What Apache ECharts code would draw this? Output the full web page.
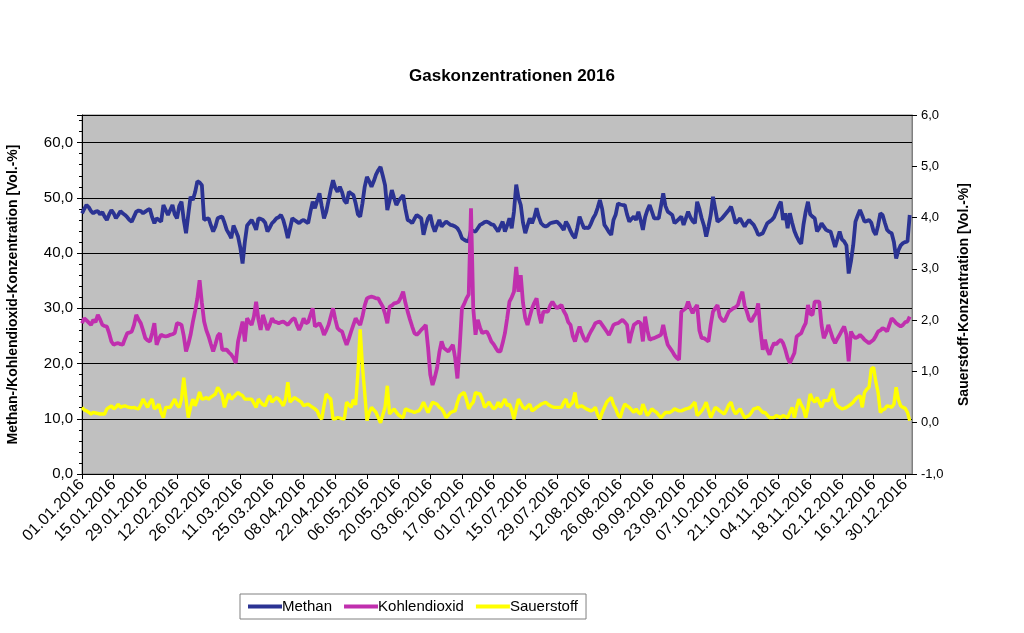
<!DOCTYPE html>
<html><head><meta charset="utf-8">
<script src="https://cdn.jsdelivr.net/npm/echarts@6/dist/echarts.min.js"></script>
<style>html,body{margin:0;padding:0;background:#fff}#c{width:1024px;height:633px}</style>
</head><body><div id="c"></div>
<script>
// ---- data (daily values from 01.01.2016) ----
const startDate = [2016, 0, 1];
const dayCount = 368; // axis runs 01.01.2016 .. 02.01.2017
const methan = [
47.2,48.0,48.7,48.3,47.6,47.2,47.5,47.6,47.0,47.4,
46.6,46.0,47.0,47.8,47.2,46.3,46.9,47.6,47.2,46.9,
46.5,46.0,45.7,46.6,47.5,47.7,47.6,47.2,47.5,47.8,
48.0,46.5,45.4,46.3,46.0,45.7,48.7,47.8,46.9,47.8,
48.7,47.0,46.3,48.5,49.3,46.0,43.6,47.0,50.2,49.6,
51.0,53.0,52.8,52.3,46.0,46.2,46.3,45.0,43.9,44.8,
46.3,46.5,46.6,45.5,44.2,43.5,42.7,45.0,44.0,43.0,
41.0,38.1,42.0,45.0,45.5,46.0,45.2,44.2,46.3,46.2,
46.0,45.5,43.9,44.6,45.4,45.8,46.3,46.5,46.9,46.0,
44.5,42.7,44.5,46.3,46.0,45.7,45.4,45.8,46.0,45.7,
45.4,47.5,49.3,48.1,49.5,50.8,48.5,46.3,47.5,49.5,
51.5,53.2,51.8,51.1,52.0,51.0,49.5,49.0,51.1,50.8,
50.5,49.0,47.0,46.6,49.0,52.0,53.8,53.0,52.0,53.0,
54.2,55.0,55.6,54.0,52.3,47.8,49.5,51.4,50.0,48.7,
49.5,50.0,50.5,48.0,46.0,45.8,45.4,46.2,46.9,46.6,
46.3,43.3,45.0,46.3,46.9,45.0,43.9,45.0,46.0,44.8,
45.3,45.7,45.4,45.1,45.0,44.8,44.5,43.8,42.7,42.4,
42.2,42.1,44.2,44.0,43.9,44.5,45.1,45.3,45.6,45.7,
45.5,45.2,45.1,44.5,43.9,44.8,45.7,43.9,45.0,46.3,
44.5,47.5,52.4,50.0,48.7,45.5,43.6,45.0,46.3,45.4,
46.5,48.1,46.5,45.4,45.0,44.8,45.0,45.4,45.5,45.6,
45.7,45.3,44.8,44.2,45.7,45.0,44.0,43.2,42.7,44.5,
46.6,45.5,44.5,44.6,44.5,45.3,46.3,47.0,48.2,49.6,
48.0,45.1,44.5,43.8,43.3,46.0,47.0,49.0,48.8,48.7,
48.7,47.0,45.7,46.2,46.6,46.0,47.5,46.0,44.2,46.5,
47.8,48.7,47.5,46.3,46.3,46.3,48.5,50.8,48.5,47.5,
47.2,46.9,45.4,45.8,46.2,46.6,45.1,46.3,47.5,46.5,
45.8,45.4,49.3,48.0,46.3,45.0,43.0,44.8,46.9,50.2,
48.0,45.7,46.0,46.3,46.8,47.3,47.8,48.4,47.0,45.4,
45.8,46.3,45.5,44.8,45.5,46.0,45.5,45.1,44.3,43.3,
43.4,43.6,44.5,45.4,45.7,46.0,46.5,47.5,48.5,49.3,
46.0,47.2,44.5,47.2,45.5,44.0,43.0,42.2,41.7,45.1,
47.5,49.3,47.0,46.6,46.3,43.9,44.5,45.4,44.8,44.2,
44.0,43.9,42.5,41.1,42.5,43.9,42.5,42.1,41.4,36.3,
38.5,41.4,45.7,46.8,47.8,46.8,45.7,45.8,46.0,45.5,
44.0,43.3,45.0,47.2,46.9,45.5,44.2,43.8,43.6,42.0,
39.0,40.5,41.4,41.8,42.0,42.1,46.9
];
const kohlendioxid = [
27.3,28.2,27.8,27.4,27.0,27.9,27.5,28.8,28.0,27.0,
26.8,26.7,25.5,24.0,23.4,23.6,23.7,23.5,23.4,24.5,
25.5,25.6,25.8,27.0,28.8,28.0,27.3,26.0,24.6,24.2,
24.0,25.5,27.3,23.4,24.5,25.2,25.0,24.9,25.0,25.2,
25.3,25.5,27.3,27.2,27.0,25.0,22.2,23.5,25.2,27.5,
29.5,31.8,35.1,31.0,27.6,26.0,24.9,23.5,22.2,23.5,
25.0,25.5,22.5,22.5,22.5,22.0,21.6,21.0,20.1,24.0,
25.8,27.6,24.0,28.2,27.5,27.0,28.5,31.2,28.0,26.1,
28.8,27.5,26.1,27.0,28.2,27.6,27.5,27.3,27.5,27.6,
27.3,27.0,27.5,28.0,28.2,27.0,26.1,27.0,28.2,27.3,
27.5,28.8,30.0,26.7,27.0,27.3,26.5,25.2,26.0,27.0,
28.5,30.0,28.0,26.4,26.0,25.8,24.5,23.4,24.5,25.8,
27.0,28.2,27.5,27.0,28.5,30.5,31.8,32.0,32.1,32.0,
31.8,31.8,31.0,30.3,29.0,27.3,30.3,30.5,30.9,31.0,
31.2,32.0,33.0,31.0,29.4,28.0,26.7,25.5,25.2,25.6,
26.1,26.5,27.0,23.0,18.0,16.1,17.5,19.2,22.0,24.0,
22.8,22.5,22.2,22.8,23.4,21.0,17.3,23.0,30.0,30.8,
31.8,32.5,48.1,30.0,25.2,27.9,26.5,25.5,25.7,25.8,
25.0,24.0,23.5,22.8,22.2,22.2,23.7,25.5,28.2,31.2,
32.0,33.0,37.5,33.0,36.0,31.0,28.2,27.0,28.5,30.0,
31.0,31.8,29.0,27.3,29.4,29.4,29.4,30.5,31.2,30.5,
30.0,30.3,30.6,29.5,28.8,27.5,27.0,25.0,24.0,25.5,
26.7,25.5,24.5,24.0,25.0,25.8,26.5,27.3,27.5,27.6,
27.0,26.4,25.8,25.2,26.0,27.0,27.2,27.3,27.6,27.9,
27.5,27.0,23.7,25.5,27.0,27.3,27.6,27.3,24.0,28.5,
26.0,24.3,24.5,24.6,24.8,25.0,25.2,27.0,25.0,23.4,
22.8,22.2,21.5,21.0,20.7,29.4,29.7,30.0,31.2,30.0,
29.1,30.0,30.6,26.0,24.6,24.6,24.3,24.0,27.0,29.4,
30.0,30.6,28.5,27.9,27.6,28.5,29.4,29.7,30.0,30.2,
30.6,32.0,33.0,30.5,29.4,28.0,27.6,28.5,29.1,30.9,
26.0,22.5,24.3,22.5,21.6,22.8,23.7,23.5,24.0,24.3,
23.7,22.5,21.0,20.1,21.0,21.9,24.9,25.2,25.5,26.5,
27.3,30.6,29.0,28.8,31.2,31.2,31.2,27.0,24.6,25.5,
27.0,25.8,24.5,23.7,24.5,25.2,26.0,26.7,25.2,20.4,
25.8,25.0,24.6,24.8,25.2,24.8,24.3,24.0,23.7,24.0,
24.3,25.0,25.8,26.0,26.4,26.2,25.8,27.0,28.2,27.8,
27.3,27.0,26.7,27.0,27.5,27.6,28.5
];
const sauerstoff = [
0.30,0.25,0.23,0.20,0.17,0.20,0.19,0.18,0.17,0.17,
0.17,0.27,0.30,0.33,0.27,0.30,0.36,0.30,0.32,0.33,
0.31,0.30,0.29,0.30,0.28,0.27,0.35,0.46,0.38,0.30,
0.40,0.46,0.27,0.30,0.36,0.20,0.10,0.30,0.30,0.30,
0.38,0.46,0.35,0.30,0.46,0.88,0.46,0.10,0.30,0.46,
0.33,0.45,0.60,0.46,0.47,0.49,0.46,0.50,0.53,0.56,
0.69,0.62,0.53,0.30,0.45,0.56,0.46,0.50,0.55,0.59,
0.55,0.53,0.46,0.46,0.46,0.46,0.38,0.30,0.46,0.40,
0.35,0.33,0.45,0.53,0.40,0.45,0.49,0.46,0.40,0.33,
0.46,0.79,0.40,0.45,0.49,0.46,0.43,0.40,0.33,0.35,
0.36,0.33,0.30,0.27,0.23,0.12,0.07,0.33,0.56,0.50,
0.46,0.07,0.08,0.10,0.09,0.08,0.07,0.40,0.35,0.30,
0.45,0.35,0.98,1.82,1.10,0.59,0.04,0.20,0.30,0.25,
0.20,0.10,0.00,0.15,0.30,0.72,0.17,0.22,0.27,0.20,
0.15,0.12,0.10,0.27,0.25,0.23,0.22,0.20,0.22,0.23,
0.30,0.40,0.30,0.20,0.30,0.40,0.38,0.36,0.30,0.27,
0.20,0.10,0.15,0.20,0.22,0.23,0.40,0.53,0.56,0.59,
0.45,0.27,0.35,0.40,0.59,0.57,0.56,0.45,0.30,0.35,
0.40,0.33,0.27,0.30,0.40,0.30,0.38,0.46,0.33,0.36,
0.25,0.07,0.28,0.46,0.38,0.30,0.27,0.32,0.36,0.23,
0.26,0.30,0.33,0.36,0.38,0.40,0.36,0.33,0.31,0.30,
0.30,0.30,0.30,0.40,0.46,0.30,0.35,0.40,0.59,0.30,
0.32,0.33,0.30,0.27,0.25,0.23,0.25,0.30,0.15,0.07,
0.20,0.30,0.40,0.45,0.49,0.35,0.27,0.15,0.10,0.25,
0.36,0.33,0.30,0.25,0.20,0.27,0.20,0.17,0.36,0.25,
0.14,0.20,0.27,0.23,0.20,0.15,0.10,0.15,0.20,0.20,
0.20,0.23,0.27,0.25,0.23,0.23,0.25,0.27,0.28,0.30,
0.35,0.40,0.14,0.18,0.23,0.30,0.40,0.25,0.10,0.20,
0.30,0.27,0.23,0.20,0.17,0.25,0.35,0.40,0.25,0.17,
0.22,0.27,0.18,0.10,0.12,0.14,0.20,0.27,0.28,0.30,
0.25,0.20,0.20,0.15,0.10,0.10,0.10,0.14,0.12,0.10,
0.14,0.12,0.10,0.20,0.30,0.10,0.30,0.46,0.35,0.27,
0.10,0.30,0.56,0.45,0.40,0.49,0.40,0.30,0.43,0.43,
0.43,0.55,0.66,0.40,0.33,0.30,0.27,0.28,0.30,0.33,
0.36,0.40,0.46,0.50,0.53,0.30,0.59,0.65,0.69,1.05,
1.08,0.80,0.59,0.20,0.25,0.27,0.33,0.32,0.30,0.36,
0.69,0.45,0.33,0.30,0.28,0.20,0.04
];
const tickEvery = 14;      // one date label every 14 days
const lastLabelIndex = 364; // 30.12.2016
const seriesNames = ['Methan', 'Kohlendioxid', 'Sauerstoff'];

// ---- build categories ----
const categories = [];
for (let i = 0; i < dayCount; i++) {
  const d = new Date(startDate[0], startDate[1], startDate[2] + i);
  const p = n => String(n).padStart(2, '0');
  categories.push(p(d.getDate()) + '.' + p(d.getMonth() + 1) + '.' + d.getFullYear());
}
const fmt = v => v.toFixed(1).replace('.', ',');
const showIdx = i => i % tickEvery === 0 && i <= lastLabelIndex;
const FONT = '"Liberation Sans", Arial, sans-serif';

const chart = echarts.init(document.getElementById('c'), null, {renderer: 'canvas'});
chart.setOption({
  animation: false,
  backgroundColor: '#ffffff',
  textStyle: {fontFamily: FONT},
  title: {
    text: 'Gaskonzentrationen 2016', left: 'center', top: 63,
    textStyle: {fontFamily: FONT, fontSize: 17, fontWeight: 'bold', color: '#000'}
  },
  legend: {
    data: seriesNames, left: 240, top: 594,
    backgroundColor: '#fff', borderColor: '#808080', borderWidth: 1,
    padding: [5, 8, 5, 8], itemGap: 12, itemWidth: 34, itemHeight: 4,
    icon: 'rect',
    textStyle: {fontFamily: FONT, fontSize: 15, color: '#000', padding: [0, 0, 0, -5]}
  },
  grid: {
    left: 82, right: 112, top: 115, bottom: 159,
    outerBoundsMode: 'none', containLabel: false,
    show: true, backgroundColor: '#c0c0c0', borderColor: '#808080', borderWidth: 1
  },
  xAxis: {
    type: 'category', data: categories, boundaryGap: false,
    axisLine: {show: true, lineStyle: {color: '#000', width: 1}},
    axisTick: {show: true, interval: (i) => showIdx(i), length: 5, lineStyle: {color: '#000'}},
    axisLabel: {
      interval: (i) => showIdx(i), rotate: 45, margin: 8,
      fontFamily: FONT, fontSize: 16, color: '#000'
    },
    splitLine: {show: false}
  },
  yAxis: [
    {
      type: 'value', min: 0, max: 65, interval: 10,
      name: 'Methan-/Kohlendioxid-Konzentration [Vol.-%]',
      nameLocation: 'middle', nameGap: 62, nameRotate: 90,
      nameTextStyle: {fontFamily: FONT, fontSize: 14, fontWeight: 'bold', color: '#000'},
      axisLine: {show: true, lineStyle: {color: '#000'}},
      axisTick: {show: true, length: 5, lineStyle: {color: '#000'}},
      minorTick: {show: true, splitNumber: 5, length: 3, lineStyle: {color: '#000'}},
      axisLabel: {
        showMaxLabel: false, margin: 9, fontFamily: FONT, fontSize: 15, color: '#000',
        formatter: v => (v > 60 ? '' : fmt(v))
      },
      splitLine: {show: true, lineStyle: {color: '#000', width: 1}}
    },
    {
      type: 'value', min: -1, max: 6, interval: 1, position: 'right',
      name: 'Sauerstoff-Konzentration [Vol.-%]',
      nameLocation: 'middle', nameGap: 45, nameRotate: 90,
      nameTextStyle: {fontFamily: FONT, fontSize: 14, fontWeight: 'bold', color: '#000'},
      axisLine: {show: true, lineStyle: {color: '#808080'}},
      axisTick: {show: true, length: 5, lineStyle: {color: '#000'}},
      axisLabel: {margin: 9, fontFamily: FONT, fontSize: 13, color: '#000', formatter: v => fmt(v)},
      splitLine: {show: false}
    }
  ],
  series: [
    {
      name: seriesNames[0], type: 'line', yAxisIndex: 0, data: methan,
      symbol: 'none', color: '#2b3393', lineStyle: {width: 3.8, color: '#2b3393'}
    },
    {
      name: seriesNames[1], type: 'line', yAxisIndex: 0, data: kohlendioxid,
      symbol: 'none', color: '#c02fae', lineStyle: {width: 3.8, color: '#c02fae'}
    },
    {
      name: seriesNames[2], type: 'line', yAxisIndex: 1, data: sauerstoff,
      symbol: 'none', color: '#ffff00', lineStyle: {width: 3.4, color: '#ffff00'}
    }
  ]
});
</script></body></html>
